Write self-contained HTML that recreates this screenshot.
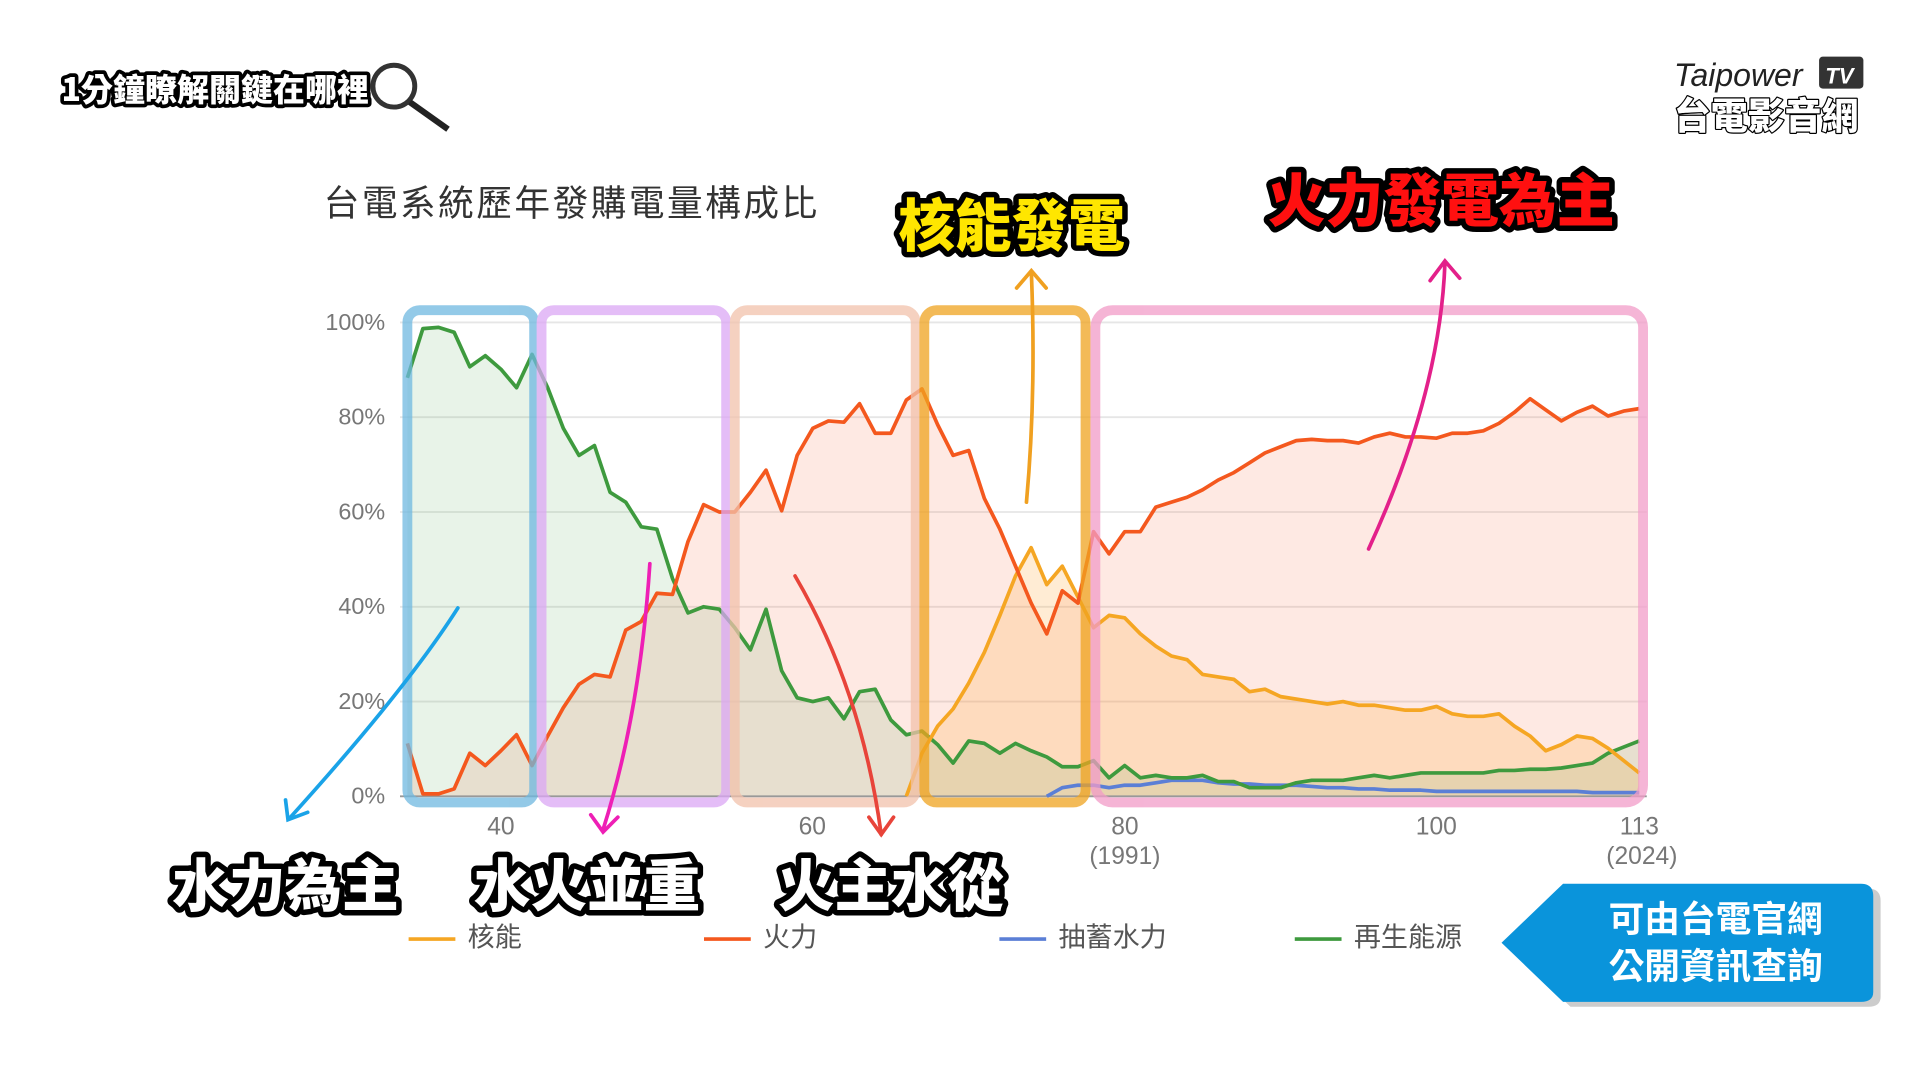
<!DOCTYPE html>
<html><head><meta charset="utf-8"><style>
html,body{margin:0;padding:0;background:#fff;width:1920px;height:1080px;overflow:hidden}
svg{display:block}
.t{font-family:"Liberation Sans","Noto Sans CJK TC",sans-serif}
.big{font-family:"Noto Sans CJK TC","WenQuanYi Zen Hei",sans-serif;font-weight:900;paint-order:stroke;stroke:#000;stroke-linejoin:round}
</style></head><body>
<svg id="s" width="1920" height="1080" viewBox="0 0 1560 877.5" xmlns="http://www.w3.org/2000/svg">
<g id="grid" stroke="#e6e6e6" stroke-width="1.5">
<line x1="325" x2="1338" y1="262" y2="262"/><line x1="325" x2="1338" y1="339" y2="339"/>
<line x1="325" x2="1338" y1="416" y2="416"/><line x1="325" x2="1338" y1="493" y2="493"/>
<line x1="325" x2="1338" y1="570" y2="570"/>
</g>
<g id="areas"></g>
<line x1="325" x2="1338" y1="647" y2="647" stroke="#999" stroke-width="1.5"/>
<g id="lines" fill="none" stroke-width="3" stroke-linejoin="round"></g>
<g fill="none" stroke-width="8" opacity="0.75">
<rect x="331" y="252" width="103" height="400" rx="10" stroke="#6fb8e0"/>
<rect x="440" y="252" width="150" height="400" rx="10" stroke="#dca7f5"/>
<rect x="597" y="252" width="147" height="400" rx="10" stroke="#f2c2ac"/>
<rect x="751" y="252" width="131" height="400" rx="10" stroke="#f0a420" opacity="1"/>
<rect x="890" y="252" width="445" height="400" rx="14" stroke="#f29cc8"/>
</g>
<g class="t" fill="#777" font-size="19" text-anchor="end">
<text x="313" y="268">100%</text><text x="313" y="345">80%</text><text x="313" y="422">60%</text>
<text x="313" y="499">40%</text><text x="313" y="576">20%</text><text x="313" y="653">0%</text>
</g>
<g class="t" fill="#777" font-size="20" text-anchor="middle">
<text x="407" y="678">40</text><text x="660" y="678">60</text><text x="914" y="678">80</text>
<text x="914" y="702">(1991)</text><text x="1167" y="678">100</text><text x="1332" y="678">113</text><text x="1334" y="702">(2024)</text>
</g>
<text class="t" x="263" y="175" font-size="29" letter-spacing="2" fill="#333">台電系統歷年發購電量構成比</text>
<g class="t" font-size="22" fill="#555">
<line x1="332" x2="370" y1="763" y2="763" stroke="#f5a623" stroke-width="3"/><text x="380" y="769">核能</text>
<line x1="572" x2="610" y1="763" y2="763" stroke="#f4581e" stroke-width="3"/><text x="620" y="769">火力</text>
<line x1="812" x2="850" y1="763" y2="763" stroke="#5b7fd6" stroke-width="3"/><text x="860" y="769">抽蓄水力</text>
<line x1="1052" x2="1090" y1="763" y2="763" stroke="#3e9a3e" stroke-width="3"/><text x="1100" y="769">再生能源</text>
</g>
<g fill="none" stroke-width="3" stroke-linecap="round">
<path d="M372 494 Q330 560 236 664" stroke="#1aa3e8"/><path d="M232 650 L234 666 L250 660" stroke="#1aa3e8"/>
<path d="M528 458 Q520 580 490 674" stroke="#ee1fb5"/><path d="M480 662 L490 676 L502 664" stroke="#ee1fb5"/>
<path d="M646 468 Q700 560 716 678" stroke="#e8443a"/><path d="M706 664 L716 678 L726 664" stroke="#e8443a"/>
<path d="M834 408 Q842 320 838 222" stroke="#f0a020"/><path d="M826 234 L838 220 L850 234" stroke="#f0a020"/>
<path d="M1112 446 Q1170 320 1174 214" stroke="#e3208a"/><path d="M1162 228 L1174 212 L1186 226" stroke="#e3208a"/>
</g>
<g class="big" font-size="46" stroke-width="9" fill="#fff">
<text x="140" y="736">水力為主</text><text x="385" y="736">水火並重</text><text x="632" y="736">火主水從</text>
</g>
<text class="big" x="730" y="200" font-size="46" stroke-width="9" fill="#ffe600">核能發電</text>
<text class="big" x="1030" y="180" font-size="47" stroke-width="9" fill="#ff1010">火力發電為主</text>
<text class="big" x="50" y="82" font-size="26" stroke-width="6" fill="#fff">1分鐘瞭解關鍵在哪裡</text>
<circle cx="320" cy="70" r="17" fill="none" stroke="#333" stroke-width="4"/><line x1="333" y1="83" x2="364" y2="105" stroke="#222" stroke-width="5"/>
<text class="t" x="1360" y="70" font-size="26" font-style="italic" fill="#222">Taipower</text>
<rect x="1478" y="46" width="36" height="26" fill="#333" rx="3"/><text class="t" x="1483" y="68" font-size="18" font-style="italic" font-weight="bold" fill="#fff">TV</text>
<text class="big" x="1360" y="105" font-size="30" stroke-width="2" fill="#fff">台電影音網</text>
<path d="M1270 718 L1512 718 Q1522 718 1522 728 L1522 806 Q1522 814 1512 814 L1270 814 L1220 766 Z" fill="#999" opacity="0.5" transform="translate(6,4)"/>
<path d="M1270 718 L1512 718 Q1522 718 1522 728 L1522 806 Q1522 814 1512 814 L1270 814 L1220 766 Z" fill="#0a94db"/>
<text class="t" x="1394" y="757" font-size="29" font-weight="bold" fill="#fff" text-anchor="middle">可由台電官網</text>
<text class="t" x="1394" y="795" font-size="29" font-weight="bold" fill="#fff" text-anchor="middle">公開資訊查詢</text>
</svg>
<script>
const X=y=>407+(y-40)*12.67;
const green={34:307,35:267,36:266,37:270,38:298,39:289,40:300,41:315,42:288,43:315,44:348,45:370,46:362,47:400,48:408,49:428,50:430,51:470,52:498,53:493,54:495,55:510,56:528,57:495,58:545,59:567,60:570,61:567,62:584,63:562,64:560,65:585,66:597,67:594,68:605,69:620,70:602,71:604,72:612,73:604,74:610,75:615,76:623,77:623,78:618,79:632,80:622,81:632,82:630,83:632,84:632,85:630,86:635,87:635,88:640,89:640,90:640,91:636,92:634,93:634,94:634,95:632,96:630,97:632,98:630,99:628,100:628,101:628,102:628,103:628,104:626,105:626,106:625,107:625,108:624,109:622,110:620,111:612,112:607,113:602};
const fire={34:604,35:645,36:645,37:641,38:612,39:622,40:610,41:597,42:622,43:598,44:575,45:556,46:548,47:550,48:512,49:505,50:482,51:483,52:440,53:410,54:416,55:416,56:400,57:382,58:415,59:370,60:348,61:342,62:343,63:328,64:352,65:352,66:325,67:316,68:345,69:370,70:366,71:405,72:430,73:460,74:490,75:515,76:480,77:490,78:432,79:450,80:432,81:432,82:412,83:408,84:404,85:398,86:390,87:384,88:376,89:368,90:363,91:358,92:357,93:358,94:358,95:360,96:355,97:352,98:355,99:355,100:356,101:352,102:352,103:350,104:344,105:335,106:324,107:333,108:342,109:335,110:330,111:338,112:334,113:332};
const nuc={66:647,67:612,68:590,69:576,70:555,71:530,72:500,73:468,74:445,75:475,76:460,77:485,78:510,79:500,80:502,81:515,82:525,83:533,84:536,85:548,86:550,87:552,88:562,89:560,90:566,91:568,92:570,93:572,94:570,95:573,96:573,97:575,98:577,99:577,100:574,101:580,102:582,103:582,104:580,105:590,106:598,107:610,108:605,109:598,110:600,111:608,112:618,113:628};
const pump={75:647,76:640,77:638,78:638,79:640,80:638,81:638,82:636,83:634,84:634,85:634,86:636,87:637,88:637,89:638,90:638,91:638,92:639,93:640,94:640,95:641,96:641,97:642,98:642,99:642,100:643,101:643,102:643,103:643,104:643,105:643,106:643,107:643,108:643,109:643,110:644,111:644,112:644,113:644};
function pts(d){return Object.keys(d).map(Number).sort((a,b)=>a-b).map(k=>X(k).toFixed(1)+','+d[k]);}
function area(d,fill){const p=pts(d);const ks=Object.keys(d).map(Number).sort((a,b)=>a-b);
return `<polygon points="${X(ks[0])},647 ${p.join(' ')} ${X(ks[ks.length-1])},647" fill="${fill}"/>`;}
document.getElementById('areas').innerHTML=area(fire,'rgba(250,110,70,0.15)')+area(nuc,'rgba(255,170,60,0.22)')+area(green,'rgba(80,160,80,0.13)');
const L=(d,c)=>`<polyline points="${pts(d).join(' ')}" stroke="${c}"/>`;
document.getElementById('lines').innerHTML=L(pump,'#5b7fd6')+L(green,'#3e9a3e')+L(nuc,'#f5a623')+L(fire,'#f4581e');
</script>
</body></html>
